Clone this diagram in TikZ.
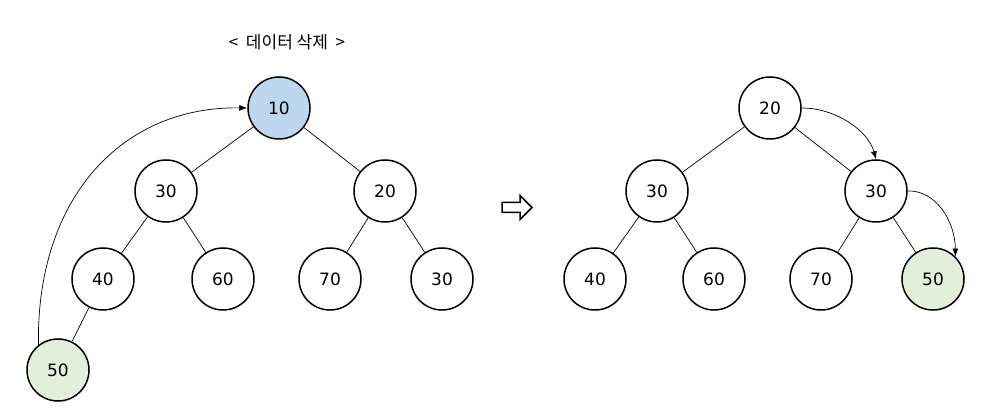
\documentclass[tikz,border=0pt]{standalone}
\usepackage{fontspec}
\setmainfont{DejaVu Sans}
\newfontfamily\krfont{Noto Sans CJK KR}
\usetikzlibrary{arrows.meta}
\definecolor{rootblue}{HTML}{BDD7EE}
\definecolor{leafgreen}{HTML}{E2EFDA}
\tikzset{
  heapnode/.style={circle, draw, line width=1.5pt, minimum size=62pt, inner sep=0pt, font=\fontsize{17}{19}\selectfont},
  edge/.style={line width=0.7pt},
  movearrow/.style={line width=0.7pt, -{Latex[length=8pt,width=6pt]}},
}
\begin{document}
\begin{tikzpicture}[x=1pt, y=-1pt]
\useasboundingbox (0,0) rectangle (996,419);
\node[font=\krfont\fontsize{17}{19}\selectfont] (title) at (287,42) {<\ \ 데이터 삭제\ \ >};
% left tree
\node[heapnode, fill=rootblue] (L10) at (279,108) {10};
\node[heapnode] (L30) at (166,191) {30};
\node[heapnode] (L20) at (385,191) {20};
\node[heapnode] (L40) at (103,279) {40};
\node[heapnode] (L60) at (223,279) {60};
\node[heapnode] (L70) at (330,279) {70};
\node[heapnode] (L30b) at (442,279) {30};
\node[heapnode, fill=leafgreen] (L50) at (58,370) {50};
\draw[edge] (L10) -- (L30);
\draw[edge] (L10) -- (L20);
\draw[edge] (L30) -- (L40);
\draw[edge] (L30) -- (L60);
\draw[edge] (L20) -- (L70);
\draw[edge] (L20) -- (L30b);
\draw[edge] (L40) -- (L50);
\draw[movearrow] (L50.128) .. controls (36,198) and (122,106) .. (L10.west);
% block arrow
\draw[line width=1.5pt, line join=miter] (502,202.5) -- (520,202.5) -- (520,195.5) -- (532,207.5) -- (520,219.5) -- (520,212.5) -- (502,212.5) -- cycle;
% right tree
\node[heapnode] (R20) at (770,108) {20};
\node[heapnode] (R30) at (657,191) {30};
\node[heapnode] (R30b) at (876,191) {30};
\node[heapnode] (R40) at (595,279) {40};
\node[heapnode] (R60) at (714,279) {60};
\node[heapnode] (R70) at (821,279) {70};
\node[heapnode, fill=leafgreen] (R50) at (933,279) {50};
\draw[edge] (R20) -- (R30);
\draw[edge] (R20) -- (R30b);
\draw[edge] (R30) -- (R40);
\draw[edge] (R30) -- (R60);
\draw[edge] (R30b) -- (R70);
\draw[edge] (R30b) -- (R50);
\draw[movearrow] (R20.east) .. controls (835,108) and (868,130) .. (R30b.north);
\draw[movearrow] (R30b.east) .. controls (935,190) and (955,220) .. (R50.45);
\end{tikzpicture}
\end{document}
